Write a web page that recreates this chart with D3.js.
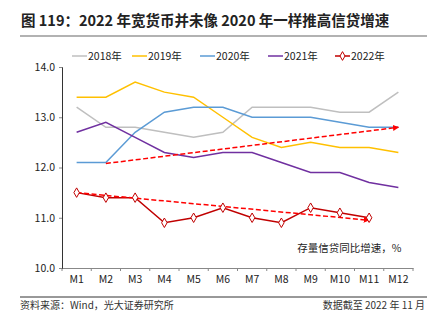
<!DOCTYPE html>
<html>
<head>
<meta charset="utf-8">
<script src="https://cdn.jsdelivr.net/npm/d3@7"></script>
<style>
body { margin: 0; background: #fff; }
text { font-family: "Noto Sans CJK SC", "Noto Sans", sans-serif; }
</style>
</head>
<body>
<svg width="437" height="328"></svg>
<script>
var months = ["M1","M2","M3","M4","M5","M6","M7","M8","M9","M10","M11","M12"];
var years = ["2018年","2019年","2020年","2021年","2022年"];
var v2018 = [13.2,12.8,12.8,12.7,12.6,12.7,13.2,13.2,13.2,13.1,13.1,13.5];
var v2019 = [13.4,13.4,13.7,13.5,13.4,13.0,12.6,12.4,12.5,12.4,12.4,12.3];
var v2020 = [12.1,12.1,12.7,13.1,13.2,13.2,13.0,13.0,13.0,12.9,12.8,12.8];
var v2021 = [12.7,12.9,12.6,12.3,12.2,12.3,12.3,12.1,11.9,11.9,11.7,11.6];
var v2022 = [11.5,11.4,11.4,10.9,11.0,11.2,11.0,10.9,11.2,11.1,11.0];
var yTicks = [10.0,11.0,12.0,13.0,14.0];
// trend arrows: [from month, from value, to month, to value]
var trends = [["M2",12.08,"M12",12.8],["M1",11.5,"M11",10.95]];
var colors = ["#bfbfbf","#ffc000","#5b9bd5","#7030a0","#c00000"];
var series = [v2018,v2019,v2020,v2021,v2022];

var margin = {top: 67, right: 24, bottom: 60, left: 62},
    width = 437 - margin.left - margin.right,
    height = 328 - margin.top - margin.bottom;

var root = d3.select("svg");

root.append("text").attr("x", 21).attr("y", 26)
    .attr("font-size", 14.5).attr("font-weight", "bold").attr("fill", "#222")
    .text("图 119：2022 年宽货币并未像 2020 年一样推高信贷增速");
root.append("line").attr("x1", 20).attr("x2", 427).attr("y1", 36).attr("y2", 36)
    .attr("stroke", "#999").attr("stroke-width", 1.5);
root.append("line").attr("x1", 20).attr("x2", 427).attr("y1", 297).attr("y2", 297)
    .attr("stroke", "#333").attr("stroke-width", 1);
root.append("text").attr("x", 20).attr("y", 309).attr("font-size", 10).attr("fill", "#333")
    .text("资料来源：Wind，光大证券研究所");
root.append("text").attr("x", 425).attr("y", 309).attr("font-size", 10).attr("fill", "#333")
    .attr("text-anchor", "end").text("数据截至 2022 年 11 月");

var defs = root.append("defs");
defs.append("marker").attr("id", "arr").attr("viewBox", "0 0 10 10")
    .attr("refX", 9).attr("refY", 5).attr("markerWidth", 6).attr("markerHeight", 6)
    .attr("orient", "auto").attr("markerUnits", "userSpaceOnUse")
    .append("path").attr("d", "M0,0L10,5L0,10z").attr("fill", "#ff0000");

var svg = root.append("g")
    .attr("transform", "translate(" + margin.left + "," + margin.top + ")");

var x = d3.scaleBand().range([0, width]).domain(months);
var y = d3.scaleLinear().domain([10, 14]).range([height, 0]);
var cx = function(m) { return x(m) + x.bandwidth() / 2; };

var xAxis = svg.append("g").attr("transform", "translate(0," + height + ")")
    .call(d3.axisBottom(x).tickSize(0).tickPadding(8));
xAxis.selectAll(".tick line").remove();
xAxis.selectAll("mytick").data(d3.range(months.length + 1)).enter().append("line")
    .attr("x1", function(i) { return i * x.step(); }).attr("x2", function(i) { return i * x.step(); })
    .attr("y1", 0).attr("y2", 3).attr("stroke", "#888");
xAxis.select(".domain").attr("stroke", "#888");
xAxis.selectAll("text").attr("font-size", 10.5).attr("fill", "#222");

var yAxis = svg.append("g")
    .call(d3.axisLeft(y).tickValues(yTicks).tickFormat(d3.format(".1f")).tickSize(3).tickPadding(4));
yAxis.select(".domain").attr("stroke", "#333");
yAxis.selectAll(".tick line").attr("stroke", "#888");
yAxis.selectAll("text").attr("font-size", 10.5).attr("fill", "#222");

var line = d3.line()
    .x(function(d, i) { return cx(months[i]); })
    .y(function(d) { return y(d); });

series.forEach(function(s, k) {
    svg.append("path").datum(s).attr("d", line).attr("fill", "none")
        .attr("stroke", colors[k]).attr("stroke-width", 1.5);
});

svg.selectAll("mytrend").data(trends).enter().append("line")
    .attr("x1", function(d) { return cx(d[0]); }).attr("y1", function(d) { return y(d[1]); })
    .attr("x2", function(d) { return cx(d[2]); }).attr("y2", function(d) { return y(d[3]); })
    .attr("stroke", "#ff0000").attr("stroke-width", 1.5).attr("stroke-dasharray", "5,2.5")
    .attr("marker-end", "url(#arr)");

svg.selectAll("mydot").data(v2022).enter().append("path")
    .attr("d", d3.symbol().type(d3.symbolDiamond).size(26))
    .attr("transform", function(d, i) { return "translate(" + cx(months[i]) + "," + y(d) + ")"; })
    .attr("fill", "#fff").attr("stroke", "#c00000").attr("stroke-width", 1);

svg.append("text").attr("x", cx("M12") + 3).attr("y", y(10.12) - 10)
    .attr("text-anchor", "end").attr("font-size", 10.5).attr("fill", "#222")
    .text("存量信贷同比增速，%");

// legend
var lx = [72, 132, 200, 268, 335];
var lg = root.selectAll("mylegend").data(years).enter().append("g")
    .attr("transform", function(d, i) { return "translate(" + lx[i] + ",56)"; });
lg.append("line").attr("x1", 0).attr("x2", 15).attr("y1", 0).attr("y2", 0)
    .attr("stroke", function(d, i) { return colors[i]; }).attr("stroke-width", 1.5);
lg.append("text").attr("x", 16).attr("y", 4).attr("font-size", 10.5).attr("fill", "#222")
    .text(function(d) { return d; });
lg.filter(function(d, i) { return i === 4; }).append("path")
    .attr("d", d3.symbol().type(d3.symbolDiamond).size(22))
    .attr("transform", "translate(7.5,0)")
    .attr("fill", "#fff").attr("stroke", "#c00000").attr("stroke-width", 1);
</script>
</body>
</html>
